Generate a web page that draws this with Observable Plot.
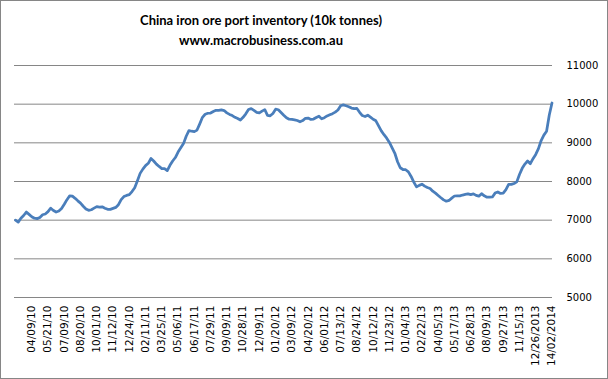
<!DOCTYPE html>
<html><head><meta charset="utf-8">
<script src="https://cdn.jsdelivr.net/npm/d3@7"></script>
<script src="https://cdn.jsdelivr.net/npm/@observablehq/plot@0.6"></script>
<style>
body{margin:0;background:#fff;}
#wrap{position:relative;width:608px;height:379px;overflow:hidden;background:#fff;}
.t{position:absolute;left:0;width:522px;text-align:center;font-family:Lato,sans-serif;font-weight:bold;font-size:13px;line-height:13px;color:#000;white-space:nowrap;}
#border{position:absolute;left:0;top:0;width:608px;height:379px;box-sizing:border-box;border:1px solid #868686;pointer-events:none;}
</style></head><body>
<div id="wrap"><div id="chart"></div>
<div class="t" style="top:14px">China iron ore port inventory (10k tonnes)</div>
<div class="t" style="top:34px">www.macrobusiness.com.au</div>
<div id="border"></div></div>
<script>
const values = [
7000,6950,7050,7120,7210,7150,7090,7050,7040,7070,
7140,7160,7220,7310,7250,7210,7235,7300,7410,7530,
7630,7620,7565,7500,7440,7360,7290,7255,7270,7310,
7350,7340,7345,7310,7280,7280,7305,7330,7400,7530,
7610,7640,7660,7740,7840,8020,8210,8320,8410,8470,
8595,8530,8450,8390,8335,8330,8280,8420,8530,8620,
8760,8870,8980,9170,9315,9300,9290,9330,9490,9660,
9740,9765,9770,9810,9840,9840,9850,9835,9775,9735,
9705,9660,9630,9590,9660,9750,9860,9885,9840,9790,
9775,9820,9860,9710,9700,9760,9870,9855,9785,9715,
9650,9612,9605,9595,9578,9545,9575,9635,9640,9605,
9615,9655,9690,9620,9650,9695,9725,9755,9795,9850,
9960,9980,9960,9935,9900,9885,9890,9790,9705,9680,
9715,9665,9610,9570,9440,9310,9210,9120,9010,8870,
8730,8510,8355,8310,8305,8250,8130,7985,7860,7900,
7930,7880,7845,7820,7750,7700,7640,7580,7525,7490,
7510,7570,7625,7630,7630,7650,7665,7680,7660,7680,
7640,7620,7685,7630,7595,7595,7600,7700,7730,7690,
7700,7790,7925,7925,7950,7990,8180,8340,8450,8530,
8460,8590,8700,8850,9060,9200,9300,9720,10030
];
const tickLabels = ["04/09/10","05/21/10","07/09/10","08/20/10","10/01/10","11/12/10","12/24/10",
"02/11/11","03/25/11","05/06/11","06/17/11","07/29/11","09/09/11","10/28/11","12/09/11",
"01/20/12","03/09/12","04/20/12","06/01/12","07/13/12","08/24/12","10/12/12","11/23/12",
"01/04/13","02/22/13","04/05/13","05/17/13","06/28/13","08/09/13","09/27/13","11/15/13","12/26/2013",
"14/02/2014"];
const tickIndex = tickLabels.map((_, k) => 6 + 6 * k);
const yTicks = [5000, 6000, 7000, 8000, 9000, 10000, 11000];
const data = values.map((v, i) => ({i, v}));
const chart = Plot.plot({
  width: 608, height: 379,
  marginLeft: 14, marginRight: 56, marginTop: 65, marginBottom: 82,
  style: {background: "transparent", fontFamily: "DejaVu Sans", fontSize: "10px", color: "#000", overflow: "visible"},
  x: {domain: [-0.369, 198.185]},
  y: {domain: [5000, 11000]},
  marks: [
    Plot.gridY(yTicks, {stroke: "#868686", strokeOpacity: 1, strokeWidth: 1}),
    Plot.axisY(yTicks, {anchor: "right", tickSize: 0, tickPadding: 14, textAnchor: "start", label: null, fontSize: 10,
      tickFormat: d => String(d)}),
    Plot.axisX(tickIndex, {tickSize: 0, tickRotate: -90, tickPadding: 8, label: null, fontSize: 10.5,
      tickFormat: d => tickLabels[tickIndex.indexOf(d)]}),
    Plot.line(data, {x: "i", y: "v", stroke: "#4a7ebb", strokeWidth: 2.75, strokeLinejoin: "round", strokeLinecap: "round"})
  ]
});
document.getElementById("chart").appendChild(chart);
</script>
</body></html>
